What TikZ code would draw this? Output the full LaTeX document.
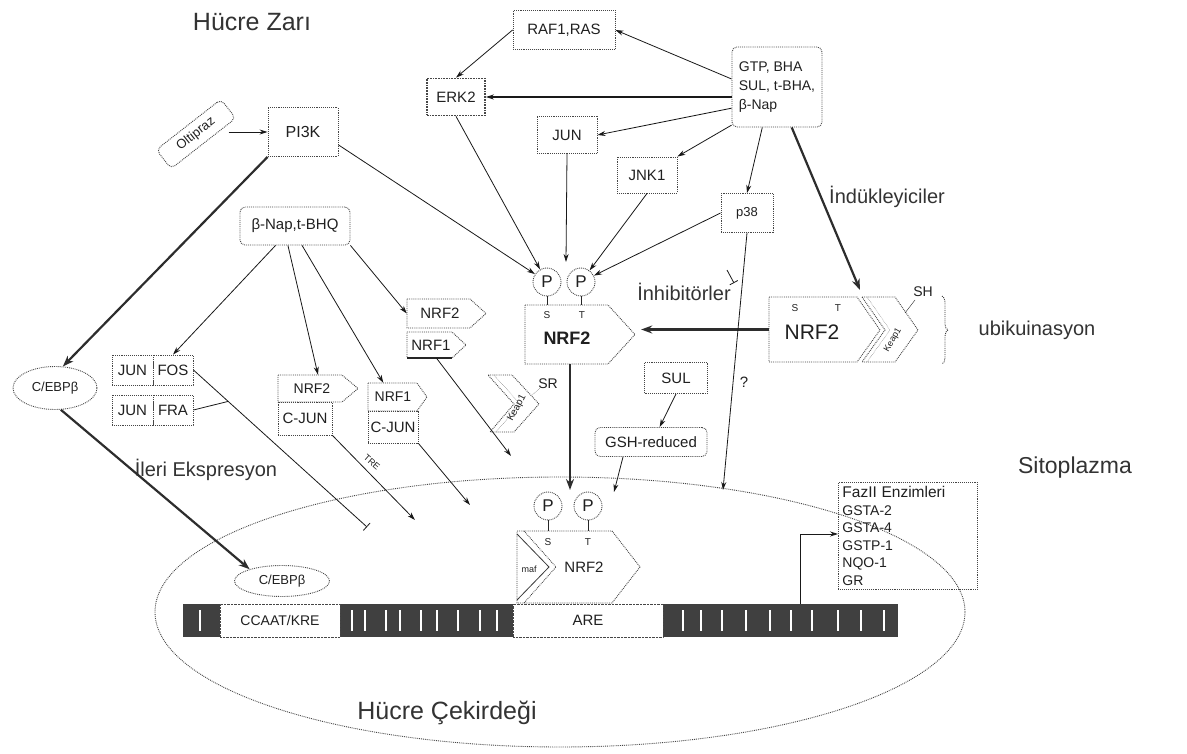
\documentclass[tikz,border=0pt]{standalone}
\usepackage{fontspec}
\setmainfont{Liberation Sans}
\usetikzlibrary{arrows.meta,calc,decorations.pathreplacing,shapes.geometric}
\begin{document}
\begin{tikzpicture}[x=1pt,y=-1pt,
 bx/.style={draw=gray!55!black, densely dotted, line width=0.9pt, inner sep=1pt, text=gray!25!black, font=\fontsize{15}{17}\selectfont},
 rbx/.style={bx, rounded corners=5pt},
 lbl/.style={font=\fontsize{20}{24}\selectfont, text=black!80, inner sep=0},
 arr/.style={draw=gray!20!black, line width=0.8pt, -{Stealth[length=8pt,width=5pt]}},
 thk/.style={draw=gray!35!black, line width=2.2pt, -{Stealth[length=11pt,width=8pt]}},
 pent/.style={draw=gray!55!black, densely dotted, line width=0.9pt},
 pc/.style={circle, draw=gray!55!black, densely dotted, line width=0.9pt, minimum size=28pt, inner sep=0, text=gray!25!black, font=\fontsize{17}{17}\selectfont},
 tny/.style={font=\fontsize{10}{10}\selectfont, inner sep=0, text=gray!25!black},
 nt/.style={inner sep=0, text=gray!25!black, font=\fontsize{14}{16}\selectfont},
 anc/.style={inner sep=0, minimum width=#1}
]
\useasboundingbox (0,0) rectangle (1187,754);
\fill[white] (0,0) rectangle (1187,754);

% nucleus
\draw[densely dotted, gray!55!black, line width=0.9pt] (560,612) ellipse [x radius=405pt, y radius=135pt];

% DNA bar
\fill[gray!50!black] (183,604) rectangle (220,637);
\fill[gray!50!black] (340,604) rectangle (513,637);
\fill[gray!50!black] (663,604) rectangle (898,637);
\foreach \x in {200,352,365,386,400,421,437,458,480,497,683,701,722,746,770,791,812,838,861,884}
  \draw[white, line width=1.4pt] (\x,610) -- (\x,631);
\node[draw=gray!55!black, densely dotted, fill=white, minimum width=120pt, minimum height=33pt, inner sep=0, font=\fontsize{14}{16}\selectfont, text=gray!25!black] (ccaat) at (280,620.5) {CCAAT/KRE};
\node[draw=gray!55!black, densely dotted, fill=white, minimum width=150pt, minimum height=33pt, inner sep=0, font=\fontsize{15}{17}\selectfont, text=gray!25!black] (are) at (588,620.5) {ARE};

% labels
\node[lbl, font=\fontsize{25}{28}\selectfont] (zar) at (252,22) {Hücre Zarı};
\node[lbl] (indk) at (887,197) {İndükleyiciler};
\node[lbl] (inh) at (684,292) {İnhibitörler};
\node[lbl] (ubi) at (1037,330) {ubikuinasyon};
\node[lbl] (ileri) at (206,470) {İleri Ekspresyon};
\node[lbl, font=\fontsize{23}{26}\selectfont] (sito) at (1075,468) {Sitoplazma};
\node[lbl, font=\fontsize{25}{28}\selectfont] (cek) at (447,713) {Hücre Çekirdeği};

% top boxes
\node[bx, minimum width=102pt, minimum height=39pt] (raf) at (564,30) {RAF1,RAS};
\node[bx, line width=1.7pt, minimum width=58pt, minimum height=37pt] (erk) at (456,97) {ERK2};
\node[bx, minimum width=60pt, minimum height=37pt] (jun) at (567,135) {JUN};
\node[bx, minimum width=60pt, minimum height=36pt] (jnk) at (647,175) {JNK1};
\node[rbx, minimum width=90pt, minimum height=80pt, align=left, font=\fontsize{14}{19}\selectfont] (gtp) at (777,87) {GTP, BHA\\SUL, t-BHA,\\β-Nap};
\node[bx, minimum width=52pt, minimum height=39pt, font=\fontsize{13}{15}\selectfont] (p38) at (747,213) {p38};
\node[bx, minimum width=70pt, minimum height=49pt, font=\fontsize{16}{18}\selectfont] (pik) at (303,132) {PI3K};
\node[rbx, rotate=38, minimum width=82pt, minimum height=24pt, font=\fontsize{13}{15}\selectfont] (olt) at (196,134) {Oltipraz};
\node[rbx, minimum width=110pt, minimum height=38pt] (bnap) at (295,226) {β-Nap,t-BHQ};

% left group
\node[bx, ellipse, minimum width=84pt, minimum height=43pt, font=\fontsize{13}{15}\selectfont] (ce1) at (55,388) {C/EBPβ};
\node[bx, minimum width=41pt, minimum height=30pt] (jf1) at (132.5,370) {JUN};
\node[bx, minimum width=40pt, minimum height=30pt] (jf2) at (173,370) {FOS};
\node[bx, minimum width=41pt, minimum height=30pt] (jr1) at (132.5,410) {JUN};
\node[bx, minimum width=40pt, minimum height=30pt] (jr2) at (173,410) {FRA};

% NRF pentagons (left/middle)
\draw[pent] (278,375) -- (342,375) -- (358,388.5) -- (342,402) -- (278,402) -- cycle;
\node[anc=80pt, minimum height=27pt] (nrfL) at (318,388.5) {};
\node[nt] (nrfLt) at (312,388.5) {NRF2};
\node[bx, minimum width=54pt, minimum height=33pt] (cjunL) at (305,418.5) {C-JUN};
\draw[pent] (368,383) -- (417,383) -- (427,397) -- (417,411) -- (368,411) -- cycle;
\node[anc=59pt, minimum height=28pt] (nrf1R) at (397.5,397) {};
\node[nt] (nrf1Rt) at (393,397) {NRF1};
\node[bx, minimum width=50pt, minimum height=32pt] (cjunR) at (393,427) {C-JUN};
\draw[pent] (407,299) -- (470,299) -- (486,313.5) -- (470,328) -- (407,328) -- cycle;
\node[anc=79pt, minimum height=29pt] (nrfU) at (446.5,313.5) {};
\node[nt, font=\fontsize{15}{17}\selectfont] (nrfUt) at (440,313.5) {NRF2};
\draw[pent] (407,332) -- (452,332) -- (466,345) -- (452,358) -- (407,358) -- cycle;
\draw[gray!30!black, line width=1.2pt] (407,358) -- (452,358);
\node[anc=59pt, minimum height=26pt] (nrf1U) at (436.5,345) {};
\node[nt, font=\fontsize{15}{17}\selectfont] (nrf1Ut) at (431,345) {NRF1};

% centre NRF2
\draw[pent] (525,305) -- (608,305) -- (635,334.5) -- (608,364) -- (525,364) -- cycle;
\node[anc=110pt, minimum height=59pt] (nrfC) at (580,334.5) {};
\node[nt, font=\bfseries\fontsize{18}{20}\selectfont] (nrfCt) at (567,338) {NRF2};
\node[pc] (p1) at (547,282) {P};
\node[pc] (p2) at (581,282) {P};
\draw[gray!30!black, line width=0.8pt] (p1.south) -- (547,305) (p2.south) -- (581,305);
\node[tny] (sC) at (547,315) {S};
\node[tny] (tC) at (582,315) {T};

% centre Keap1
\draw[pent] (488,375) -- (512,375) -- (539,404) -- (514,432) -- (490,432) -- (514,404) -- cycle;
\draw[gray!55!black, densely dotted] (494,375) -- (520,404) -- (496,432);
\node[tny, rotate=62, font=\fontsize{10}{10}\selectfont] (kp1) at (517,408) {Keap1};
\node[nt] (sr) at (548,384) {SR};
\draw[gray!30!black, densely dotted] (532,395) -- (540,388);

% right NRF2 + Keap1
\draw[pent] (769,297) -- (857,297) -- (880,330) -- (857,362) -- (769,362) -- cycle;
\node[anc=111pt, minimum height=65pt] (nrfR) at (824.5,329.5) {};
\node[nt, font=\fontsize{21}{23}\selectfont] (nrfRt) at (812,332) {NRF2};
\node[tny] (sR) at (795,308) {S};
\node[tny] (tR) at (838,308) {T};
\draw[pent] (862,297) -- (895,297) -- (918,330) -- (895,362) -- (862,362) -- (885,330) -- cycle;
\draw[gray!55!black, densely dotted] (867,297) -- (890,330) -- (867,362);
\node[tny, rotate=60, font=\fontsize{9}{9}\selectfont] (kpR) at (893,340) {Keap1};
\node[nt] (sh) at (923,292) {SH};
\draw[gray!30!black] (905,313) -- (915,300);
\draw[gray!45!black, densely dotted, line width=0.9pt, decorate, decoration={brace, amplitude=6pt}] (942,296) -- (942,364);

% SUL / GSH
\node[bx, minimum width=63pt, minimum height=31pt] (sul) at (676,378) {SUL};
\node[rbx, minimum width=112pt, minimum height=29pt] (gsh) at (651,442) {GSH-reduced};
\node[nt, font=\fontsize{15}{15}\selectfont] (qm) at (744,382) {?};

% nucleus content
\node[bx, ellipse, minimum width=95pt, minimum height=31pt, font=\fontsize{13}{15}\selectfont] (ce2) at (282,581) {C/EBPβ};
\draw[pent] (517,531) -- (612,531) -- (640,567) -- (612,603) -- (517,603) -- cycle;
\draw[gray!45!black, line width=0.8pt] (517,534) -- (549,567) -- (517,600);
\draw[gray!45!black, densely dotted, line width=0.8pt] (524,531) -- (556,567) -- (524,603);
\node[anc=123pt, minimum height=72pt] (nrfN) at (578.5,567) {};
\node[tny, font=\fontsize{9}{9}\selectfont] (maf) at (529,569) {maf};
\node[nt, font=\fontsize{15}{17}\selectfont] (nrfNt) at (584,567) {NRF2};
\node[pc] (p3) at (548,506) {P};
\node[pc] (p4) at (588,506) {P};
\draw[gray!30!black, line width=0.8pt] (p3.south) -- (548,531) (p4.south) -- (588,531);
\node[tny] (sN) at (548,542) {S};
\node[tny] (tN) at (588,542) {T};

% Faz II box
\node[bx, anchor=north west, text width=131pt, inner sep=4pt, align=left, font=\fontsize{14}{17.5}\selectfont] (faz) at (838,482) {{\fontsize{15.5}{17.5}\selectfont FazII Enzimleri}\\GSTA-2\\GSTA-4\\GSTP-1\\NQO-1\\GR};

% coordinates for free ends
\coordinate (jp) at (566,262);
\coordinate (indA) at (860,290);
\coordinate (e1) at (511,456);
\coordinate (e2) at (470,505);
\coordinate (e3) at (415,520);
\coordinate (e4) at (367,527);
\coordinate (e5) at (570,490);
\coordinate (e6) at (723,490);
\coordinate (e7) at (614,492);
\coordinate (dnaF) at (800,604);
\coordinate (fzin) at (838,534);
\coordinate (ib1) at (727,270);
\coordinate (ib2) at (734,283);
\coordinate (j1) at ($(jf2.east)!0.2!(e4)$);

% connectors
\draw[arr] (raf.west) -- (erk.north);
\draw[arr] (gtp.170) -- (raf.east);
\draw[arr, line width=1.3pt] (gtp.west |- erk.east) -- (erk.east);
\draw[arr] (gtp.205) -- (jun.east);
\draw[arr] (gtp.220) -- (jnk.north east);
\draw[arr] (gtp.250) -- (p38.north);
\draw[thk] (gtp.290) -- (indA);
\draw[arr] (erk.south) -- (p1);
\draw[arr] (jun.south) -- (jp);
\draw[arr] (jnk.south) -- (p2);
\draw[arr] (p38.west) -- (p2);
\draw[arr] (pik.-20) -- (p1);
\draw[arr] (olt.east |- pik.west) -- (pik.west);
\draw[thk] (pik.south west) -- (ce1.70);
\draw[arr] (bnap.225) -- (jf2.north);
\draw[arr] (bnap.250) -- (nrfL.north);
\draw[arr] (bnap.290) -- (nrf1R.135);
\draw[arr] (bnap.south east) -- (nrfU.west);
\draw[arr] (nrf1U.south) -- (e1);
\draw[arr] (cjunR.south east) -- (e2);
\draw[arr] (cjunL.south east) -- (e3);
\node[tny, rotate=-41, font=\fontsize{9}{9}\selectfont] (tre) at (372,462) {TRE};
\draw[draw=gray!20!black, line width=0.8pt, -{Bar[width=10pt]}] (jf2.east) -- (e4);
\draw[gray!20!black, line width=0.8pt] (jr2.east) -- (j1);
\draw[thk] (nrfC.south -| e5) -- (e5);
\draw[thk, shorten >=6pt] (nrfR.west) -- (nrfR.west -| nrfC.east);
\draw[arr] (p38.south) -- (e6);
\draw[draw=gray!20!black, line width=0.8pt, -{Bar[width=9pt]}] (ib1) -- (ib2);
\draw[arr] (sul.south) -- (gsh.60);
\draw[arr] ($(gsh.south)+(-28,0)$) -- (e7);
\draw[thk] (ce1.-75) -- (ce2.160);
\draw[arr] (dnaF) |- (fzin);
\end{tikzpicture}
\end{document}
